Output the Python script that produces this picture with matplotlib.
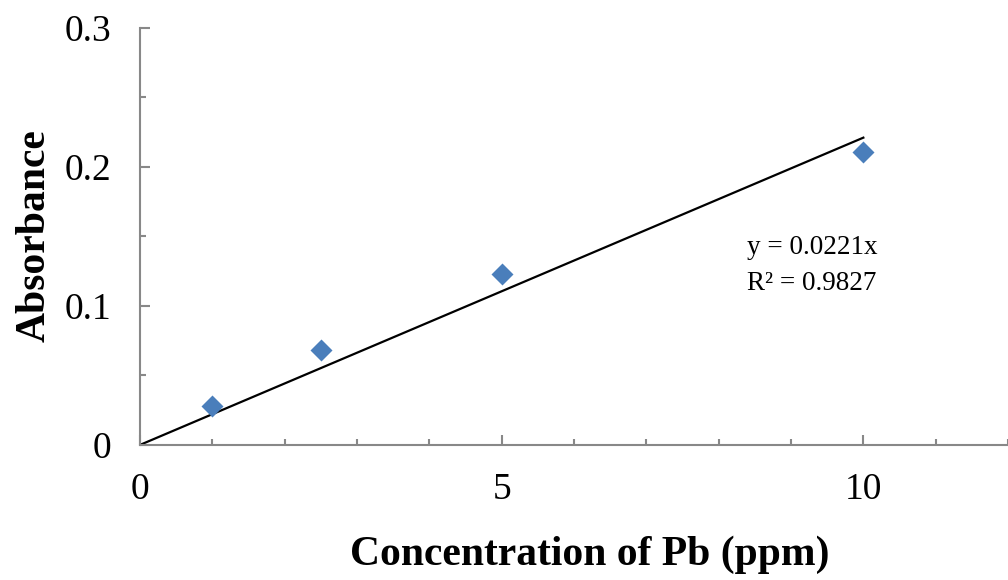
import matplotlib.pyplot as plt
import numpy as np
from matplotlib.ticker import MultipleLocator

# Pb calibration standards
conc = [1, 2.5, 5, 10]
absorb = [0.028, 0.068, 0.123, 0.211]
slope = 0.0221
r2 = 0.9827

plt.rcParams['font.family'] = ['Liberation Serif', 'DejaVu Serif']

fig = plt.figure(figsize=(10.08, 5.8), dpi=100)
ax = fig.add_axes([0.139, 0.233, 0.861, 0.719])

fit_x = np.array([0, conc[-1]])
ax.plot(fit_x, slope * fit_x, color='black', lw=1.6, zorder=2)
ax.plot(conc, absorb, 'D', color='#4a7ebb', ms=11, mec='none', zorder=3,
        clip_on=False)

ax.set_xlim(0, 12)
ax.set_ylim(0, 0.3)
ax.xaxis.set_minor_locator(MultipleLocator(1))
ax.yaxis.set_minor_locator(MultipleLocator(0.05))
ax.set_xticks([0, 5, 10])
ax.set_xticklabels(['0', '5', '10'])
ax.set_yticks([0, 0.1, 0.2, 0.3])
ax.set_yticklabels(['0', '0.1', '0.2', '0.3'])

for side in ['top', 'right']:
    ax.spines[side].set_visible(False)
for side in ['left', 'bottom']:
    ax.spines[side].set_color('#888888')
    ax.spines[side].set_linewidth(1.5)

ax.tick_params(which='major', direction='in', length=7, width=1.5,
               color='#888888', labelsize=27)
ax.tick_params(which='minor', direction='in', length=4.5, width=1.5,
               color='#888888')
ax.tick_params(axis='x', which='major', pad=20)
ax.tick_params(axis='y', which='major', pad=21)

ax.set_xlabel('Concentration of Pb (ppm)', fontsize=30, fontweight='bold',
              va='center')
ax.set_ylabel('Absorbance', fontsize=30, fontweight='bold', va='center')
ax.xaxis.set_label_coords(0.518, -0.263)
ax.yaxis.set_label_coords(-0.121, 0.502)

ax.text(8.39, 0.129, 'y = %.4fx\nR² = %.4f' % (slope, r2), fontsize=19.5,
        va='center', ha='left', linespacing=1.55)

fig.savefig('out.png', dpi=100)
